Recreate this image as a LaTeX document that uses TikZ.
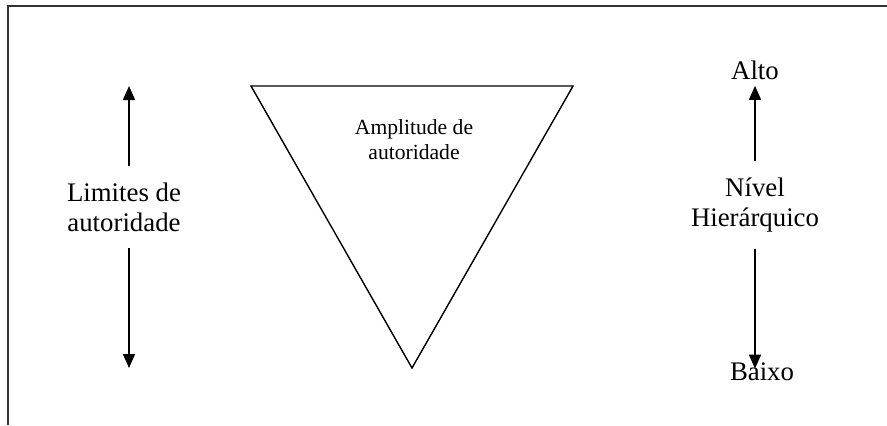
\documentclass[tikz,border=0pt]{standalone}
\usepackage{fontspec}
\setmainfont{Liberation Serif}
\usetikzlibrary{arrows.meta,positioning}

\begin{document}
\begin{tikzpicture}[
    x=0.5pt, y=-0.5pt,
    rotulo/.style={align=center, inner sep=0pt, font=\fontsize{13.4}{15}\selectfont},
    pequeno/.style={align=center, inner sep=0pt, font=\fontsize{10.8}{12.5}\selectfont},
    seta/.style={-{Triangle[width=6pt,length=7pt]}, line width=0.8pt},
    moldura/.style={line width=1pt, draw=black!80}
]
\useasboundingbox (0,0) rectangle (887,425);
\draw[moldura] (8,425) -- (8,6) -- (887,6);

\coordinate (limtop) at (129,86);
\coordinate (limbot) at (129,368);
\node[rotulo, inner ysep=8pt] (lim) at (124,207) {Limites de\\autoridade};
\draw[seta] (lim.north -| limtop) -- (limtop);
\draw[seta] (lim.south -| limbot) -- (limbot);

\coordinate (tl) at (251,86);
\coordinate (tr) at (573,86);
\coordinate (tb) at (412,368);
\draw[line width=0.7pt] (tl) -- (tr) -- (tb) -- cycle;
\node[pequeno] (amp) at (414,140) {Amplitude de\\autoridade};

\node[rotulo] (alto) at (755,70) {Alto};
\node[rotulo, inner ysep=8pt] (niv) at (755,205) {Nível\\Hierárquico};
\node[rotulo] (baixo) at (762,372) {Baixo};
\draw[seta] (niv.north) -- ([yshift=-3pt]alto.south);
\draw[seta, shorten >=-3pt] (niv.south) -- (baixo.north -| niv.south);
\end{tikzpicture}
\end{document}
